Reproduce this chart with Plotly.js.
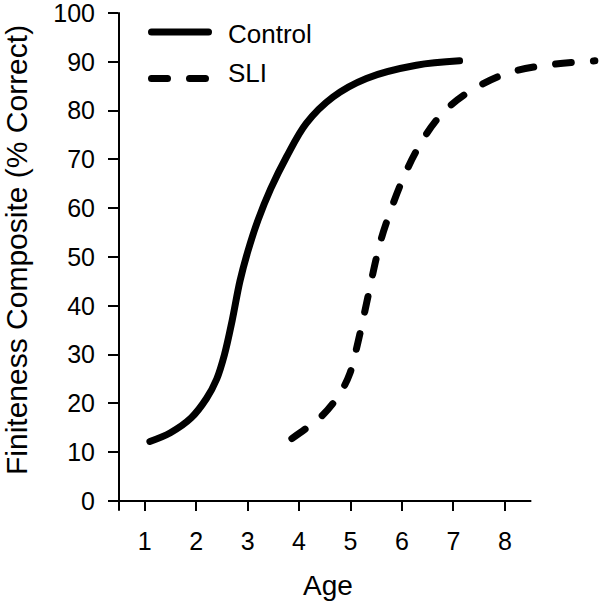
<!DOCTYPE html>
<html>
<head>
<meta charset="utf-8">
<script src="https://cdn.plot.ly/plotly-3.0.1.min.js"></script>
<style>
  html, body { margin: 0; padding: 0; background: #fff; }
  #chart { width: 600px; height: 604px; }
  .js-line, .shapelayer path { stroke-linecap: round !important; stroke-linejoin: round !important; }
</style>
</head>
<body>
<div id="chart"></div>
<script>
// ---- data ----
const controlAge = [1.1, 1.5, 1.9, 2.2, 2.4, 2.55, 2.7, 2.85, 3.0, 3.2, 3.45, 3.76, 4.14, 4.66, 5.31, 6.28, 7.12];
const controlPct = [12.2, 14.0, 17.0, 21.0, 25.0, 30.0, 37.0, 45.0, 51.0, 57.5, 64.0, 70.6, 77.4, 82.8, 86.6, 89.3, 90.2];
const sliAge = [3.86, 4.14, 4.45, 4.66, 4.85, 4.99, 5.1, 5.22, 5.34, 5.5, 5.6, 5.73, 5.99, 6.31, 6.73, 7.25, 8.03, 8.8, 9.75];
const sliPct = [12.8, 14.9, 17.5, 20.0, 23.0, 26.2, 30.5, 36.0, 41.9, 49.7, 53.8, 58.0, 65.3, 72.3, 78.8, 83.5, 87.6, 89.3, 90.2];
const seriesNames = ["Control", "SLI"];
const xTickVals = [1, 2, 3, 4, 5, 6, 7, 8];
const xTickText = ["1", "2", "3", "4", "5", "6", "7", "8"];
const yTickVals = [0, 10, 20, 30, 40, 50, 60, 70, 80, 90, 100];
const yTickText = ["0", "10", "20", "30", "40", "50", "60", "70", "80", "90", "100"];
const xTitle = "Age";
const yTitle = "Finiteness Composite (% Correct)";

// ---- layout constants ----
const FONT = "'Liberation Sans', Arial, Helvetica, sans-serif";
const xRange = [0.5, 9.85];
const yAxisTop = 100;
const xAxisEnd = 8.5;
const M = { l: 119, r: 0, t: 11, b: 103 };
const W = 600 - M.l - M.r, H = 604 - M.t - M.b;
const yRange = [0, H / 4.88];
const px2x = p => (p - M.l) / W;
const px2y = p => (604 - M.b - p) / H;
const axisEndFrac = (xAxisEnd - xRange[0]) / (xRange[1] - xRange[0]);
const yAxisTopFrac = (yAxisTop - yRange[0]) / (yRange[1] - yRange[0]);
const DASH = "16px,22px";

const traces = [
  { x: controlAge, y: controlPct, name: seriesNames[0], mode: "lines",
    line: { color: "#000", width: 7, shape: "spline", smoothing: 1 }, hoverinfo: "skip" },
  { x: sliAge, y: sliPct, name: seriesNames[1], mode: "lines",
    line: { color: "#000", width: 7, shape: "spline", smoothing: 1, dash: DASH }, hoverinfo: "skip" }
];

const shapes = [
  // y axis line (extends slightly below 0, ends at 100)
  { type: "line", xref: "paper", yref: "paper", x0: 0, x1: 0, y0: -9 / H, y1: yAxisTopFrac,
    line: { color: "#000", width: 2 } },
  // x axis line (extends slightly left of y axis, ends at 8.5)
  { type: "line", xref: "paper", yref: "paper", x0: -10 / W, x1: axisEndFrac, y0: 0, y1: 0,
    line: { color: "#000", width: 2 } },
  // legend samples
  { type: "line", xref: "paper", yref: "paper", x0: px2x(151.5), x1: px2x(208.5), y0: px2y(32), y1: px2y(32),
    line: { color: "#000", width: 7 } },
  { type: "line", xref: "paper", yref: "paper", x0: px2x(151.5), x1: px2x(208.5), y0: px2y(78.5), y1: px2y(78.5),
    line: { color: "#000", width: 7, dash: DASH } }
];

const annotations = [
  { text: seriesNames[0], xref: "paper", yref: "paper", x: px2x(226), y: px2y(33.5),
    xanchor: "left", yanchor: "middle", showarrow: false, font: { family: FONT, size: 26, color: "#000" } },
  { text: seriesNames[1], xref: "paper", yref: "paper", x: px2x(226), y: px2y(73.5),
    xanchor: "left", yanchor: "middle", showarrow: false, font: { family: FONT, size: 26, color: "#000" } },
  { text: xTitle, xref: "paper", yref: "paper", x: px2x(328), y: px2y(585),
    xanchor: "center", yanchor: "middle", showarrow: false, font: { family: FONT, size: 28, color: "#000" } },
  { text: yTitle, xref: "paper", yref: "paper", x: px2x(17), y: px2y(250), textangle: -90,
    xanchor: "center", yanchor: "middle", showarrow: false, font: { family: FONT, size: 30, color: "#000" } }
];

const layout = {
  width: 600, height: 604,
  margin: M,
  paper_bgcolor: "#fff", plot_bgcolor: "#fff",
  showlegend: false,
  font: { family: FONT, color: "#000" },
  xaxis: {
    range: xRange, showgrid: false, zeroline: false, showline: false,
    tickmode: "array", tickvals: xTickVals, ticktext: xTickText,
    ticks: "outside", ticklen: 9, tickwidth: 2, tickcolor: "#000", ticklabelstandoff: 9,
    tickfont: { family: FONT, size: 25, color: "#000" }, fixedrange: true
  },
  yaxis: {
    range: yRange, showgrid: false, zeroline: false, showline: false,
    tickmode: "array", tickvals: yTickVals, ticktext: yTickText,
    ticks: "outside", ticklen: 10, tickwidth: 2, tickcolor: "#000", ticklabelstandoff: 8,
    ticklabeloverflow: "allow",
    tickfont: { family: FONT, size: 25, color: "#000" }, fixedrange: true
  },
  shapes: shapes,
  annotations: annotations
};

Plotly.newPlot("chart", traces, layout, { staticPlot: true, displayModeBar: false });
</script>
</body>
</html>
